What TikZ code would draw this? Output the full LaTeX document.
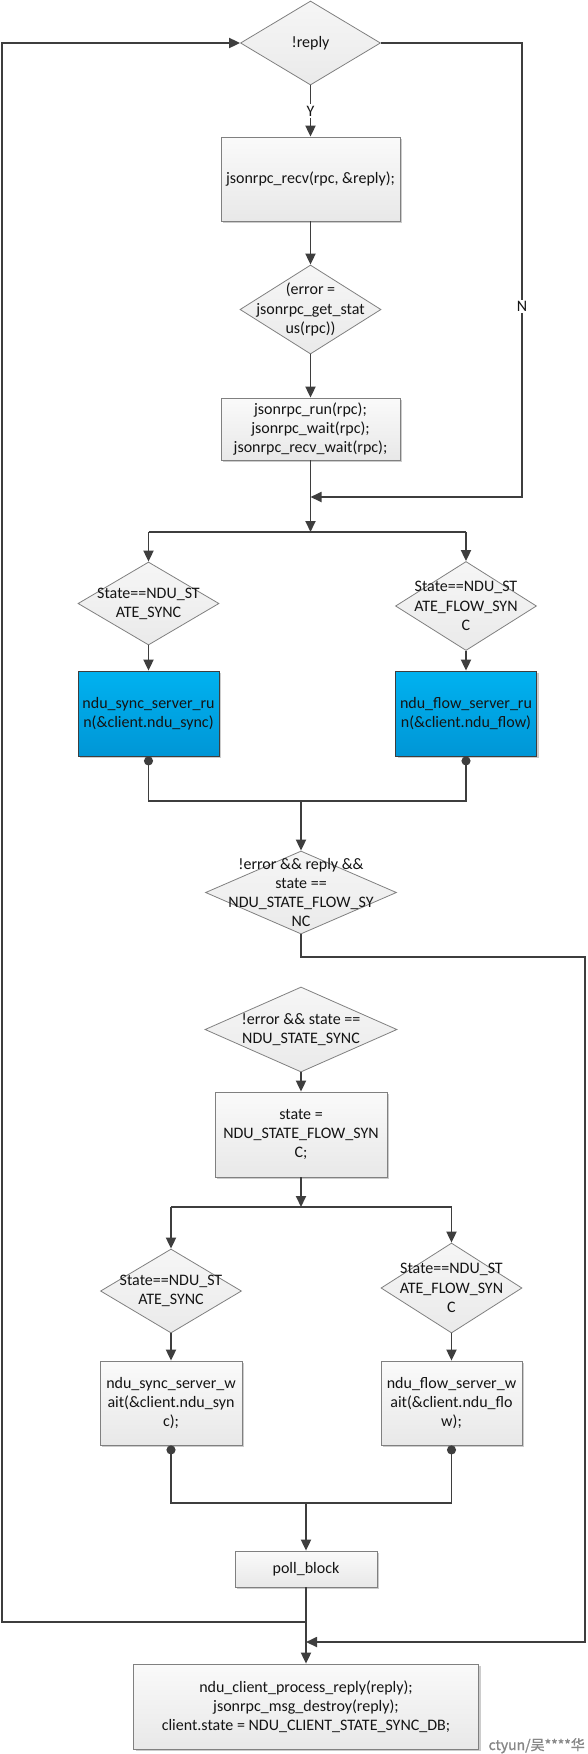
\documentclass[tikz,border=0pt]{standalone}
\usepackage{fontspec}
\setmainfont{Carlito}
\newfontfamily\cjkfont[FakeBold=1.2]{Noto Sans CJK SC}
\usetikzlibrary{shapes.geometric, arrows.meta, shadows}
\definecolor{linec}{RGB}{62,62,62}
\definecolor{bordc}{RGB}{128,128,128}
\definecolor{boxtop}{RGB}{250,250,250}
\definecolor{boxbot}{RGB}{232,232,232}
\definecolor{diatop}{RGB}{246,246,246}
\definecolor{diabot}{RGB}{234,234,234}
\definecolor{bluetop}{RGB}{0,178,240}
\definecolor{bluebot}{RGB}{0,150,214}
\definecolor{textc}{RGB}{20,20,20}
\definecolor{wmc}{RGB}{135,135,135}
\begin{document}
\begin{tikzpicture}[x=1pt,y=-1pt,
  txt/.style={font=\fontsize{16}{19.2}\selectfont, align=center, text=textc, inner sep=0pt},
  boxn/.style={draw=bordc, line width=0.8pt, top color=boxtop, bottom color=boxbot, inner sep=0pt,
    drop shadow={shadow xshift=2pt, shadow yshift=-2pt, opacity=0.2, fill=black}, txt},
  bluen/.style={boxn, draw=linec, top color=bluetop, bottom color=bluebot},
  dian/.style={diamond, draw=bordc, line width=0.8pt, top color=diatop, bottom color=diabot, inner sep=0pt},
  arr/.style={draw=linec, line width=1.8pt, -{Triangle[length=11pt,width=10pt]}},
  conn/.style={draw=linec, line width=1.8pt},
  dots/.style={draw=linec, line width=1.8pt, {Circle[length=9pt]}-{Circle[length=9pt]}},
  lab/.style={txt, fill=white, inner sep=1.5pt},
]
\fill[white] (0,0) rectangle (587,1754);
\useasboundingbox (0,0) rectangle (587,1754);

% top part
\node[dian, minimum width=140pt, minimum height=84pt] (d1) at (310.5,43) {};
\node[txt] (d1t) at (d1.center) {!reply};
\node[boxn, minimum width=179pt, minimum height=84pt] (b1) at (310.5,179) {jsonrpc\_recv(rpc, \&reply);};
\node[dian, minimum width=141pt, minimum height=89pt] (d2) at (310.5,309.5) {};
\node[txt] (d2t) at (d2.center) {(error =\\jsonrpc\_get\_stat\\us(rpc))};
\node[boxn, minimum width=179pt, minimum height=62pt] (b2) at (310.5,429) {jsonrpc\_run(rpc);\\jsonrpc\_wait(rpc);\\jsonrpc\_recv\_wait(rpc);};

\coordinate (nr1) at (522,43);
\coordinate (nr2) at (522,497);
\coordinate (j1) at (310.5,497);
\coordinate (j2) at (310.5,532);
\coordinate (jL) at (148.5,532);
\coordinate (jR) at (466,532);

% first branch
\node[dian, minimum width=141pt, minimum height=83pt] (d3L) at (148.5,603.5) {};
\node[txt] (d3Lt) at (d3L.center) {State==NDU\_ST\\ATE\_SYNC};
\node[dian, minimum width=141pt, minimum height=89pt] (d3R) at (466,606) {};
\node[txt] (d3Rt) at (d3R.center) {State==NDU\_ST\\ATE\_FLOW\_SYN\\C};
\node[bluen, minimum width=141pt, minimum height=85pt] (bL) at (148.5,713.5) {ndu\_sync\_server\_ru\\n(\&client.ndu\_sync)};
\node[bluen, minimum width=141pt, minimum height=85pt] (bR) at (466,713.5) {ndu\_flow\_server\_ru\\n(\&client.ndu\_flow)};

\coordinate (m1) at (148.5,801);
\coordinate (m2) at (466,801);
\coordinate (m3) at (301,801);

\node[dian, minimum width=191pt, minimum height=83pt] (d4) at (301,892.5) {};
\node[txt] (d4t) at (d4.center) {!error \&\& reply \&\&\\state ==\\NDU\_STATE\_FLOW\_SY\\NC};

\coordinate (c1) at (301,957);
\coordinate (c2) at (585,957);
\coordinate (c3) at (585,1642);

% second part
\node[dian, minimum width=192pt, minimum height=85pt] (d5) at (301,1029.5) {};
\node[txt] (d5t) at (d5.center) {!error \&\& state ==\\NDU\_STATE\_SYNC};
\node[boxn, minimum width=172pt, minimum height=85pt] (b3) at (301,1134.5) {state =\\NDU\_STATE\_FLOW\_SYN\\C;};

\coordinate (j3) at (301,1207);
\coordinate (j3L) at (171,1207);
\coordinate (j3R) at (451.5,1207);

\node[dian, minimum width=141pt, minimum height=84pt] (d6L) at (171,1291) {};
\node[txt] (d6Lt) at (d6L.center) {State==NDU\_ST\\ATE\_SYNC};
\node[dian, minimum width=141pt, minimum height=90pt] (d6R) at (451.5,1288) {};
\node[txt] (d6Rt) at (d6R.center) {State==NDU\_ST\\ATE\_FLOW\_SYN\\C};
\node[boxn, minimum width=142pt, minimum height=84pt] (b6L) at (171,1403) {ndu\_sync\_server\_w\\ait(\&client.ndu\_syn\\c);};
\node[boxn, minimum width=141pt, minimum height=84pt] (b6R) at (451.5,1403) {ndu\_flow\_server\_w\\ait(\&client.ndu\_flo\\w);};

\coordinate (m4) at (171,1503);
\coordinate (m5) at (451.5,1503);
\coordinate (m6) at (306,1503);

\node[boxn, minimum width=142pt, minimum height=36pt] (pb) at (306,1569) {poll\_block};
\node[boxn, minimum width=345pt, minimum height=85pt] (fin) at (306,1706.5) {ndu\_client\_process\_reply(reply);\\jsonrpc\_msg\_destroy(reply);\\client.state = NDU\_CLIENT\_STATE\_SYNC\_DB;};

\coordinate (c4) at (pb.south |- c3);
\coordinate (ll1) at (2,1622);
\coordinate (jl) at (pb.south |- ll1);
\coordinate (ll2) at (2,43);

% connectors
\draw[arr] (d1.south) -- node[lab]{Y} (b1.north);
\draw[arr] (b1.south) -- (d2.north);
\draw[arr] (d2.south) -- (b2.north);
\draw[arr] (d1.east) -- (nr1) -- node[lab, pos=0.58]{N} (nr2) -- (j1);
\draw[arr] (b2.south) -- (j2);
\draw[conn] (jL) -- (jR);
\draw[arr] (jL) -- (d3L.north);
\draw[arr] (jR) -- (d3R.north);
\draw[arr] (d3L.south) -- (bL.north);
\draw[arr] (d3R.south) -- (bR.north);
\draw[dots] (bL.south) -- (m1) -- (m2) -- (bR.south);
\draw[arr] (m3) -- (d4.north);
\draw[arr] (d4.south) -- (c1) -- (c2) -- (c3) -- (c4);
\draw[arr] (d5.south) -- (b3.north);
\draw[arr] (b3.south) -- (j3);
\draw[conn] (j3L) -- (j3R);
\draw[arr] (j3L) -- (d6L.north);
\draw[arr] (j3R) -- (d6R.north);
\draw[arr] (d6L.south) -- (b6L.north);
\draw[arr] (d6R.south) -- (b6R.north);
\draw[dots] (b6L.south) -- (m4) -- (m5) -- (b6R.south);
\draw[arr] (m6) -- (pb.north);
\draw[arr] (pb.south) -- (fin.north);
\draw[arr] (jl) -- (ll1) -- (ll2) -- (d1.west);

\node[anchor=base east, inner sep=0pt, text=wmc, font=\cjkfont\fontsize{14}{14}\selectfont] (wm) at (585,1750) {ctyun/吴****华};
\end{tikzpicture}
\end{document}
